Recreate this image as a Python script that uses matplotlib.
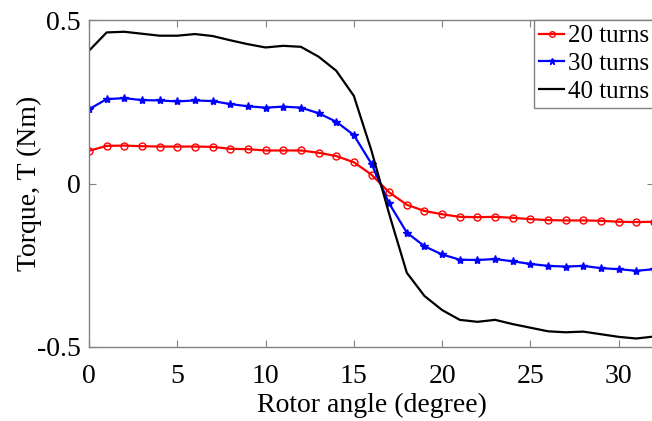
import matplotlib
matplotlib.use("Agg")
import matplotlib.pyplot as plt
import numpy as np

plt.rcParams['font.family'] = ['Liberation Serif', 'DejaVu Serif']
plt.rcParams['axes.unicode_minus'] = False

angle = list(range(0, 33))
t20 = [0.100, 0.115, 0.116, 0.114, 0.113, 0.113, 0.113, 0.112, 0.106, 0.105,
       0.101, 0.101, 0.101, 0.094, 0.084, 0.065, 0.027, -0.027, -0.065, -0.084,
       -0.094, -0.102, -0.103, -0.102, -0.105, -0.109, -0.112, -0.113, -0.113,
       -0.114, -0.117, -0.118, -0.117]
t30 = [0.227, 0.258, 0.261, 0.255, 0.254, 0.251, 0.254, 0.252, 0.243, 0.236,
       0.232, 0.235, 0.232, 0.215, 0.189, 0.148, 0.060, -0.061, -0.150, -0.192,
       -0.217, -0.233, -0.234, -0.231, -0.238, -0.246, -0.252, -0.254, -0.252,
       -0.259, -0.262, -0.267, -0.262]
t40 = [0.406, 0.462, 0.464, 0.458, 0.452, 0.452, 0.457, 0.451, 0.438, 0.426,
       0.416, 0.421, 0.418, 0.388, 0.345, 0.268, 0.100, -0.093, -0.273, -0.344,
       -0.387, -0.417, -0.423, -0.417, -0.430, -0.441, -0.452, -0.455, -0.453,
       -0.461, -0.469, -0.474, -0.468]
labels = ['20 turns', '30 turns', '40 turns']
xticks = [0, 5, 10, 15, 20, 25, 30]
yticks = [-0.5, 0, 0.5]
yticklabels = ['-0.5', '0', '0.5']

fig = plt.figure(figsize=(6.52, 4.21), dpi=100)
ax = fig.add_axes([89/652, 1 - 347/421, (654-89)/652, (347-20)/421])

ax.plot(angle, t20, color='#ff0000', lw=1.6, marker='o', ms=5, mfc='none', mew=1.0, label=labels[0])
ax.plot(angle, t30, color='#0000ff', lw=1.6, marker='*', ms=6, mew=1.0, label=labels[1])
ax.plot(angle, t40, color='black', lw=1.6, label=labels[2])

ax.set_xlim(0, 32)
ax.set_ylim(-0.5, 0.5)
ax.set_xticks(xticks)
ax.set_yticks(yticks)
ax.set_yticklabels(yticklabels)
ax.tick_params(direction='in', top=True, right=True, labelsize=20, length=5, width=0.8, color='#808080')
ax.tick_params(axis='x', pad=12)
ax.tick_params(axis='y', pad=6)
for t in ax.yaxis.get_major_ticks():
    t.label1.set_va('center_baseline')
for s in ax.spines.values():
    s.set_color('#808080')
    s.set_linewidth(1.0)

ax.set_xlabel('Rotor angle (degree)', fontsize=20, labelpad=3)
ax.set_ylabel('Torque, T (Nm)', fontsize=20, labelpad=-4)

leg = ax.legend(loc='upper right', bbox_to_anchor=(1.0, 1.0), fontsize=18,
                handlelength=1.0, handletextpad=0.15,
                borderpad=0.2, labelspacing=0.2, borderaxespad=0.0, fancybox=False,
                framealpha=1, edgecolor='#808080', markerscale=0.8)
leg.get_frame().set_linewidth(1.0)

fig.savefig('out.png', dpi=100)
